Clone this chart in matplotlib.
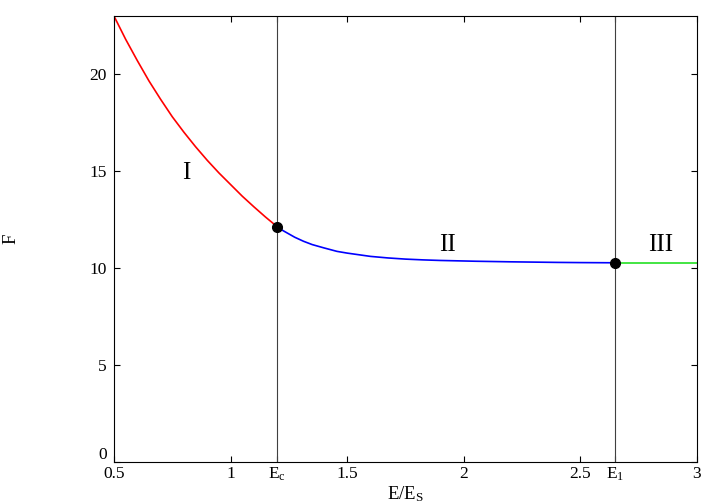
import matplotlib
matplotlib.use("Agg")
import matplotlib.pyplot as plt
from matplotlib.transforms import ScaledTranslation

plt.rcParams['font.family'] = ['Liberation Serif', 'DejaVu Serif']
plt.rcParams['mathtext.default'] = 'regular'

# region I (red), region II (blue), region III (green)
red_x = [0.5, 0.55, 0.6, 0.65, 0.7, 0.75, 0.8, 0.85, 0.9, 0.95, 1.0, 1.05, 1.1, 1.15, 1.2]
red_y = [23.0, 21.8, 20.7, 19.65, 18.7, 17.8, 17.0, 16.25, 15.55, 14.9, 14.3, 13.7,
         13.15, 12.62, 12.12]
blue_x = [1.2, 1.225, 1.25, 1.275, 1.313, 1.35, 1.4, 1.456, 1.5, 1.6, 1.675, 1.75,
          1.825, 1.9, 1.975, 2.05, 2.2, 2.3, 2.4, 2.5, 2.65]
blue_y = [12.12, 11.92, 11.75, 11.58, 11.37, 11.2, 11.03, 10.85, 10.76, 10.59, 10.51,
          10.45, 10.41, 10.38, 10.36, 10.34, 10.31, 10.295, 10.28, 10.27, 10.26]
green_x = [2.65, 3.0]
green_y = [10.26, 10.26]

E_c, E_1 = 1.2, 2.65
pts_x = [E_c, E_1]
pts_y = [12.12, 10.26]

xticks = [0.5, 1, E_c, 1.5, 2, 2.5, E_1, 3]
xticklabels = ['0.5', '1', 'E$_c$', '1.5', '2', '2.5', 'E$_1$', '3']
yticks = [0, 5, 10, 15, 20]

fig = plt.figure(figsize=(7.2, 5.04), dpi=100)
ax = fig.add_axes([0.1583, 0.0843, 0.8097, 0.8839])

ax.axvline(E_c, color='#404040', lw=0.8)
ax.axvline(E_1, color='#404040', lw=0.8)
ax.plot(red_x, red_y, color='red', lw=1.2)
ax.plot(blue_x, blue_y, color='blue', lw=1.2)
ax.plot(green_x, green_y, color='#22e022', lw=1.2)
ax.plot(pts_x, pts_y, 'o', color='black', ms=7, zorder=5)

ax.text(0.812, 14.9, 'I', fontsize=18, ha='center', va='center')
ax.text(1.929, 11.19, 'II', fontsize=18, ha='center', va='center')
ax.text(2.845, 11.19, 'III', fontsize=18, ha='center', va='center')

ax.set_xlim(0.5, 3)
ax.set_ylim(0, 23)
ax.set_xticks(xticks)
ax.set_xticklabels(xticklabels)
ax.set_yticks(yticks)
ax.tick_params(direction='in', top=True, right=True, length=4.5, width=0.8,
               labelsize=12.5)
ax.tick_params(axis='x', pad=3)
ax.tick_params(axis='y', pad=5)
for s in ax.spines.values():
    s.set_linewidth(0.8)

# the "0" label sits a little higher, as in the original
lab0 = ax.get_yticklabels()[0]
lab0.set_transform(lab0.get_transform() + ScaledTranslation(0, 6 / 72, fig.dpi_scale_trans))

ax.set_xlabel('E/E$_S$', fontsize=13.5)
ax.xaxis.set_label_coords(0.5, -0.052)
ax.set_ylabel('F', fontsize=13.5)
ax.yaxis.set_label_coords(-0.162, 0.5)

fig.savefig('out.png', dpi=100)
